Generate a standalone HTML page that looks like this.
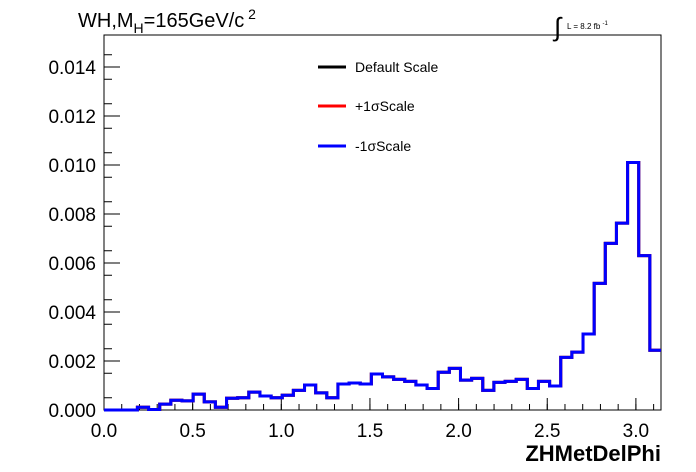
<!DOCTYPE html>
<html><head><meta charset="utf-8"><style>
body{margin:0;background:#fff;}
svg{display:block;font-family:"Liberation Sans",sans-serif;}
</style></head><body>
<svg id="c" width="696" height="472" viewBox="0 0 696 472">
<rect x="0" y="0" width="696" height="472" fill="#fff"/>
<g id="axes"></g>
<g id="series"></g>
<text x="78" y="27" font-size="20">WH,M<tspan font-size="14" dy="6">H</tspan><tspan dy="-6">=165GeV/c</tspan><tspan font-size="14" dy="-8"> 2</tspan></text>
<text x="554" y="36" font-size="26">∫</text>
<text x="567" y="29" font-size="8">L = 8.2 fb <tspan font-size="6" dy="-4">-1</tspan></text>
<g>
<line x1="318" y1="67" x2="346" y2="67" stroke="#000" stroke-width="3"/>
<text x="355" y="72" font-size="14">Default Scale</text>
<line x1="318" y1="106" x2="346" y2="106" stroke="#f00" stroke-width="3"/>
<text x="355" y="111" font-size="14">+1σScale</text>
<line x1="318" y1="146" x2="346" y2="146" stroke="#00f" stroke-width="3"/>
<text x="355" y="151" font-size="14">-1σScale</text>
</g>
<text x="661" y="461" font-size="22" font-weight="bold" text-anchor="end">ZHMetDelPhi</text>
</svg>
<script>
const binValues = [0,0,0,0.00011,0.00002,0.00024,0.0004,0.00037,0.00065,0.00033,
0.00011,0.00048,0.0005,0.00073,0.00057,0.0005,0.0006,0.0008,0.00102,0.0007,
0.0005,0.00106,0.0011,0.00106,0.00147,0.00135,0.00125,0.00117,0.00102,0.00088,
0.00154,0.0017,0.00122,0.00129,0.0008,0.00113,0.00117,0.00125,0.00088,0.00117,
0.00098,0.00215,0.00236,0.0031,0.00517,0.0068,0.00763,0.0101,0.0063,0.00244];
const yTicks = [0,0.002,0.004,0.006,0.008,0.010,0.012,0.014];
const yTickLabels = ["0.000","0.002","0.004","0.006","0.008","0.010","0.012","0.014"];
const xTicks = [0,0.5,1,1.5,2,2.5,3];
const xTickLabels = ["0.0","0.5","1.0","1.5","2.0","2.5","3.0"];
const X0=104,X1=661,Y0=410,Y1=35,XMAX=Math.PI,YMAX=(Y0-Y1)/24500;
const xs=v=>X0+(X1-X0)*v/XMAX, ys=v=>Y0-(Y0-Y1)*v/YMAX;
const NS="http://www.w3.org/2000/svg";
function mk(tag,attrs,parent){const e=document.createElementNS(NS,tag);for(const k in attrs)e.setAttribute(k,attrs[k]);parent.appendChild(e);return e;}
const ax=document.getElementById('axes');
const frame=mk('rect',{x:X0,y:Y1,width:X1-X0,height:Y0-Y1,fill:'none',stroke:'#000','stroke-width':1},ax);


yTicks.forEach((v,i)=>{const y=ys(v);
 const t=mk('line',{x1:X0,y1:y,x2:X0+16,y2:y,stroke:'#000'},ax);
 
 
 const l=mk('text',{x:X0-8,y:y+7,'font-size':19,'text-anchor':'end'},ax);l.textContent=yTickLabels[i];
 
 
});
for(let v=0.0005;v<YMAX;v+=0.001){const y=ys(v);mk('line',{x1:X0,y1:y,x2:X0+8,y2:y,stroke:'#000'},ax);}
xTicks.forEach((v,i)=>{const x=xs(v);
 const t=mk('line',{x1:x,y1:Y0,x2:x,y2:Y0-12,stroke:'#000'},ax);
 
 
 const l=mk('text',{x:x,y:Y0+27,'font-size':19,'text-anchor':'middle'},ax);l.textContent=xTickLabels[i];
 
 
});
for(let v=0.1;v<XMAX;v+=0.1){const x=xs(v);mk('line',{x1:x,y1:Y0,x2:x,y2:Y0-6,stroke:'#000'},ax);}
const n=binValues.length,bw=XMAX/n;
let d='M'+xs(0)+','+ys(0);
binValues.forEach((v,i)=>{d+=' L'+xs(i*bw)+','+ys(v)+' L'+xs((i+1)*bw)+','+ys(v);});
const sg=document.getElementById('series');
['#000','#f00','#00f'].forEach((c,k)=>{
 const p=mk('path',{d:d,fill:'none',stroke:c,'stroke-width':3,'stroke-linejoin':'miter'},sg);
 
 
});
</script>
</body></html>
